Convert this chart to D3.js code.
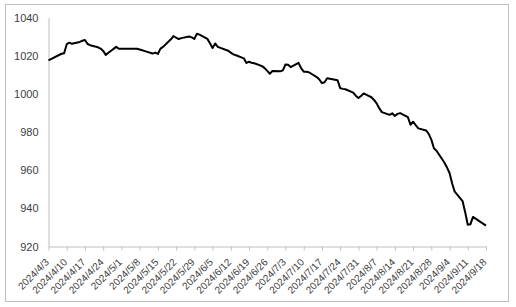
<!DOCTYPE html>
<html>
<head>
<meta charset="utf-8">
<script src="https://cdn.jsdelivr.net/npm/d3@7"></script>
<style>
  body { margin: 0; background: #fff; }
  svg { display: block; font-family: "Liberation Sans", Arial, sans-serif; }
</style>
</head>
<body>
<svg width="516" height="307"></svg>
<script>
// trading days
var dates = [
  "2024-04-03","2024-04-08","2024-04-09","2024-04-10","2024-04-11","2024-04-12",
  "2024-04-15","2024-04-16","2024-04-17","2024-04-18","2024-04-19",
  "2024-04-22","2024-04-23","2024-04-24","2024-04-25","2024-04-26",
  "2024-04-29","2024-04-30",
  "2024-05-06","2024-05-07","2024-05-08","2024-05-09","2024-05-10",
  "2024-05-13","2024-05-14","2024-05-15","2024-05-16","2024-05-17",
  "2024-05-20","2024-05-21","2024-05-22","2024-05-23","2024-05-24",
  "2024-05-27","2024-05-28","2024-05-29","2024-05-30","2024-05-31",
  "2024-06-03","2024-06-04","2024-06-05","2024-06-06","2024-06-07",
  "2024-06-11","2024-06-12","2024-06-13","2024-06-14",
  "2024-06-17","2024-06-18","2024-06-19","2024-06-20","2024-06-21",
  "2024-06-24","2024-06-25","2024-06-26","2024-06-27","2024-06-28",
  "2024-07-01","2024-07-02","2024-07-03","2024-07-04","2024-07-05",
  "2024-07-08","2024-07-09","2024-07-10","2024-07-11","2024-07-12",
  "2024-07-15","2024-07-16","2024-07-17","2024-07-18","2024-07-19",
  "2024-07-22","2024-07-23","2024-07-24","2024-07-25","2024-07-26",
  "2024-07-29","2024-07-30","2024-07-31","2024-08-01","2024-08-02",
  "2024-08-05","2024-08-06","2024-08-07","2024-08-08","2024-08-09",
  "2024-08-12","2024-08-13","2024-08-14","2024-08-15","2024-08-16",
  "2024-08-19","2024-08-20","2024-08-21","2024-08-22","2024-08-23",
  "2024-08-26","2024-08-27","2024-08-28","2024-08-29","2024-08-30",
  "2024-09-02","2024-09-03","2024-09-04","2024-09-05","2024-09-06",
  "2024-09-09","2024-09-10","2024-09-11","2024-09-12","2024-09-13",
  "2024-09-18"
]

var values = [
  1017.5, 1021.0, 1021.3, 1026.0, 1026.8, 1026.2,
  1027.2, 1027.8, 1028.2, 1026.1, 1025.5,
  1024.4, 1023.7, 1022.5, 1020.4, 1021.5,
  1024.6, 1023.6,
  1023.6, 1023.6, 1023.2, 1022.8, 1022.4,
  1021.1, 1021.6, 1020.9, 1023.7, 1024.6,
  1028.6, 1030.3, 1029.4, 1028.7, 1029.2,
  1030.0, 1029.6, 1028.8, 1031.5, 1031.0,
  1028.8, 1026.5, 1024.0, 1026.4, 1024.6,
  1022.6, 1021.6, 1020.7, 1020.2,
  1018.6, 1016.2, 1016.8, 1016.3, 1016.0,
  1014.5, 1013.5, 1012.0, 1010.5, 1012.0,
  1011.8, 1012.3, 1015.4, 1015.2, 1014.0,
  1016.2, 1013.5, 1011.6, 1011.6, 1011.3,
  1008.8, 1007.5, 1005.6, 1006.1, 1008.2,
  1007.4, 1007.1, 1003.0, 1002.6, 1002.4,
  1000.6, 999.0, 997.8, 998.9, 1000.2,
  998.2, 996.8, 995.0, 992.5, 990.4,
  989.0, 989.8, 988.4, 989.5, 989.9,
  987.8, 983.8, 985.4, 983.6, 981.9,
  980.8, 979.0, 976.0, 971.5, 970.2,
  964.0, 961.5, 958.5, 953.0, 948.7,
  943.8, 938.0, 931.4, 931.6, 935.5,
  930.9
]

var yTicks = [920, 940, 960, 980, 1000, 1020, 1040]

var parse = d3.timeParse("%Y-%m-%d")
var fmt = d3.timeFormat("%Y/%-m/%-d")

var data = dates.map(function(d, i) { return { date: parse(d), value: values[i] } })

var svg = d3.select("svg")

// outer chart frame
svg.append("rect")
    .attr("x", 5.5).attr("y", 4.5)
    .attr("width", 503).attr("height", 297)
    .attr("fill", "none")
    .attr("stroke", "#bfbfbf")

var plotLeft = 48.5, plotRight = 486, plotTop = 17.5, plotBottom = 246.5

var x = d3.scaleTime()
    .domain([parse("2024-04-03"), parse("2024-09-18")])
    .range([plotLeft, plotRight])

var y = d3.scaleLinear()
    .domain([920, 1040])
    .range([plotBottom, plotTop])

// x ticks every 7 days
var xTicks = d3.timeDay.range(parse("2024-04-03"), d3.timeDay.offset(parse("2024-09-18"), 1), 7)

var xAxis = svg.append("g")
    .attr("transform", "translate(0," + plotBottom + ")")
    .call(d3.axisBottom(x).tickValues(xTicks).tickFormat(fmt).tickSize(4).tickSizeOuter(0))

xAxis.select(".domain").attr("stroke", "#bfbfbf")
xAxis.selectAll(".tick line").attr("stroke", "#bfbfbf")
// rotated labels, end of text just below-left of the tick
xAxis.selectAll("text")
    .attr("fill", "#404040")
    .style("font-size", "10px")
    .attr("text-anchor", "end")
    .attr("x", -11)
    .attr("y", 8.5)
    .attr("dy", "0.35em")
    .attr("transform", "rotate(-45)")

var yAxis = svg.append("g")
    .attr("transform", "translate(" + plotLeft + ",0)")
    .call(d3.axisLeft(y).tickValues(yTicks).tickFormat(d3.format("d")).tickSize(0).tickPadding(10))

yAxis.select(".domain").attr("stroke", "#bfbfbf")
yAxis.selectAll("text")
    .attr("fill", "#404040")
    .style("font-size", "11px")

var line = d3.line()
    .x(function(d) { return x(d.date) })
    .y(function(d) { return y(d.value) })

svg.append("path")
    .datum(data)
    .attr("fill", "none")
    .attr("stroke", "#000")
    .attr("stroke-width", 2)
    .attr("stroke-linejoin", "round")
    .attr("d", line)
</script>
</body>
</html>
